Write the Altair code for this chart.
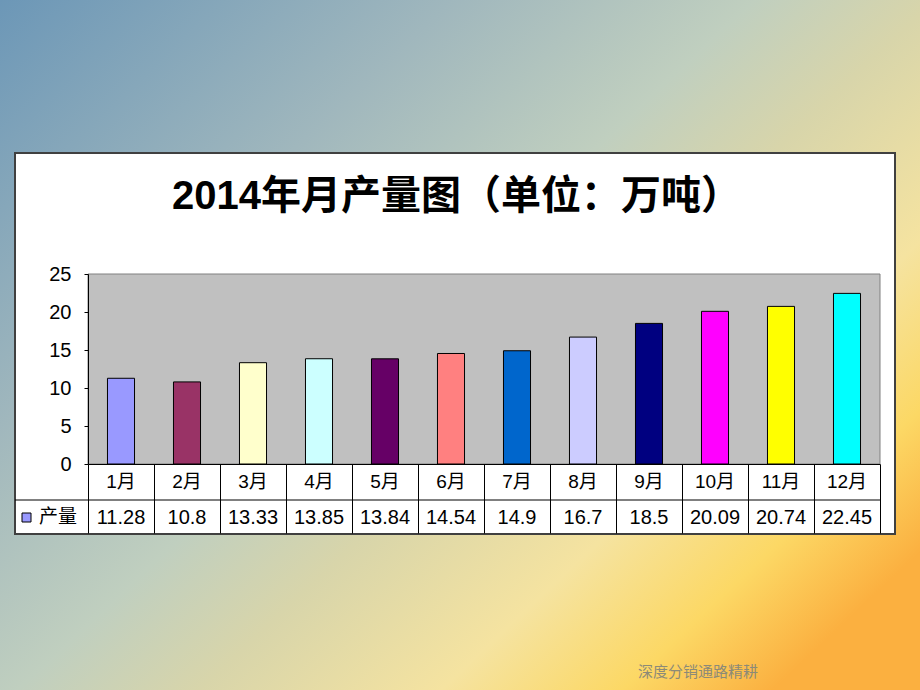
import altair as alt
import pandas as pd

months = ["1月", "2月", "3月", "4月", "5月", "6月", "7月", "8月", "9月", "10月", "11月", "12月"]
output = [11.28, 10.8, 13.33, 13.85, 13.84, 14.54, 14.9, 16.7, 18.5, 20.09, 20.74, 22.45]
labels = ["11.28", "10.8", "13.33", "13.85", "13.84", "14.54", "14.9", "16.7", "18.5", "20.09", "20.74", "22.45"]
bar_colors = ["#9999FF", "#993366", "#FFFFCC", "#CCFFFF", "#660066", "#FF8080",
              "#0066CC", "#CCCCFF", "#000080", "#FF00FF", "#FFFF00", "#00FFFF"]
y_ticks = [0, 5, 10, 15, 20, 25]
title_text = "2014年月产量图（单位：万吨）"
series_name = "产量"
footer_text = "深度分销通路精耕"

df = pd.DataFrame({"month": months, "value": output, "label": labels})
one = pd.DataFrame({"k": [0]})

FONT = "Liberation Sans, Noto Sans CJK SC"
CJK = "Noto Sans CJK SC"

xscale = alt.Scale(domain=months, paddingInner=0, paddingOuter=0)
yscale = alt.Scale(domain=[0, 25], nice=False)

bg = alt.Chart(one).mark_rect(
    fill={"gradient": "linear", "x1": 0, "y1": 0, "x2": 1, "y2": 0.8,
          "stops": [{"offset": 0, "color": "#6c97b7"},
                    {"offset": 0.3, "color": "#a0b7bd"},
                    {"offset": 0.5, "color": "#c0cfbf"},
                    {"offset": 0.62, "color": "#d8d5aa"},
                    {"offset": 0.78, "color": "#f5e3a0"},
                    {"offset": 0.9, "color": "#fcd865"},
                    {"offset": 1.0, "color": "#fbb040"}]}
).encode(x=alt.value(-88), x2=alt.value(832), y=alt.value(-274), y2=alt.value(416))

box = alt.Chart(one).mark_rect(fill="white", stroke="#404040", strokeWidth=2).encode(
    x=alt.value(-73), x2=alt.value(807), y=alt.value(-121), y2=alt.value(260))

plotbg = alt.Chart(one).mark_rect(fill="#C0C0C0", stroke="#808080", strokeWidth=1).encode(
    x=alt.value(0), x2=alt.value(792), y=alt.value(0), y2=alt.value(190))

bars = alt.Chart(df).mark_bar(width={"band": 0.41}, stroke="black", strokeWidth=1).encode(
    x=alt.X("month:N", sort=months, scale=xscale, title=None,
            axis=alt.Axis(labels=False, tickBand="extent", tickSize=69, tickColor="black",
                          tickWidth=1, domainColor="black", domainWidth=1, zindex=1,
                          grid=False)),
    y=alt.Y("value:Q", scale=yscale, title=None,
            axis=alt.Axis(values=y_ticks, tickSize=4, tickColor="black", domainColor="black",
                          labelFont="Liberation Sans", labelFontSize=20, labelColor="black",
                          labelPadding=13, grid=False, zindex=1)),
    color=alt.Color("month:N", scale=alt.Scale(domain=months, range=bar_colors), legend=None),
)

month_text = alt.Chart(df).mark_text(font=FONT, fontSize=19, color="black", baseline="middle").encode(
    x=alt.X("month:N", sort=months, scale=xscale),
    y=alt.value(208),
    text="month:N",
)

value_text = alt.Chart(df).mark_text(font="Liberation Sans", fontSize=20, color="black", baseline="middle").encode(
    x=alt.X("month:N", sort=months, scale=xscale),
    y=alt.value(244),
    text="label:N",
)

hline = alt.Chart(one).mark_rule(color="black", strokeWidth=1).encode(
    x=alt.value(-73), x2=alt.value(792), y=alt.value(226))

legend_sq = alt.Chart(one).mark_rect(fill="#9999FF", stroke="black", strokeWidth=1).encode(
    x=alt.value(-66), x2=alt.value(-57), y=alt.value(239), y2=alt.value(248))

legend_txt = alt.Chart(one).mark_text(font=CJK, fontSize=19, color="black", align="left",
                                       baseline="middle", text=series_name).encode(
    x=alt.value(-49), y=alt.value(243))

title = alt.Chart(one).mark_text(font=FONT, fontSize=40, fontWeight="bold", color="black",
                                  align="left", baseline="middle", text=title_text).encode(
    x=alt.value(84), y=alt.value(-77))

footer = alt.Chart(one).mark_text(font=CJK, fontSize=15, color="#8c8a78", align="left",
                                   baseline="middle", text=footer_text).encode(
    x=alt.value(550), y=alt.value(398))

chart = alt.layer(bg, box, plotbg, bars, hline, month_text, value_text, legend_sq, legend_txt,
                  title, footer).properties(
    width=792, height=190,
    padding={"left": 88, "top": 274, "right": 40, "bottom": 226},
    autosize=alt.AutoSizeParams(type="none"),
).configure_view(stroke="transparent")

chart.save("out.html", embed_options={"renderer": "svg", "actions": False})
